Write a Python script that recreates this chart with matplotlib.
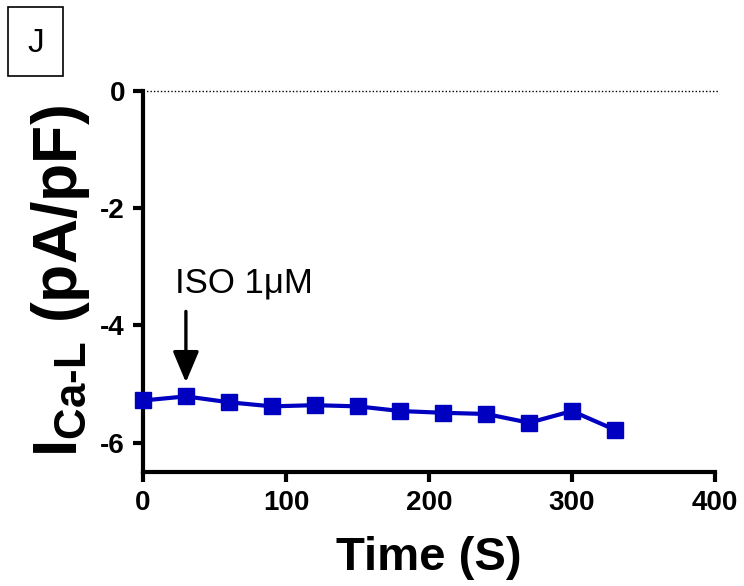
import matplotlib
matplotlib.use("Agg")
import matplotlib.pyplot as plt
from matplotlib.patches import Rectangle

plt.rcParams['font.family'] = ['Liberation Sans', 'DejaVu Sans']
plt.rcParams['mathtext.fontset'] = 'custom'
plt.rcParams['mathtext.rm'] = 'Liberation Sans:bold'
plt.rcParams['mathtext.bf'] = 'Liberation Sans:bold'
plt.rcParams['mathtext.it'] = 'Liberation Sans:bold'

time_s = [0, 30, 60, 90, 120, 150, 180, 210, 240, 270, 300, 330]
ica_l = [-5.28, -5.21, -5.31, -5.38, -5.36, -5.38, -5.46, -5.49, -5.51, -5.66, -5.46, -5.78]
xticks = [0, 100, 200, 300, 400]
yticks = [0, -2, -4, -6]

fig = plt.figure(figsize=(7.44, 5.86), dpi=100)
ax = fig.add_axes([143/744, 1-472/586, (715-143)/744, (472-91)/586])

color = '#0000C0'
ax.plot(time_s, ica_l, color=color, lw=3, marker='s', ms=11.5, mec=color, mfc=color, clip_on=False, zorder=3)
ax.axhline(0, color='black', lw=1, ls=(0, (1, 1.5)), xmin=0, xmax=1.005, clip_on=False)

ax.set_xlim(0, 400)
ax.set_ylim(-6.5, 0)
ax.set_xticks(xticks)
ax.set_yticks(yticks)
ax.set_xticklabels([str(v) for v in xticks], fontweight='bold', fontsize=20)
ax.set_yticklabels([str(v) for v in yticks], fontweight='bold', fontsize=20)
for s in ['top', 'right']:
    ax.spines[s].set_visible(False)
for s in ['left', 'bottom']:
    ax.spines[s].set_linewidth(3)
ax.tick_params(width=3, length=7, direction='out', pad=6)

ax.set_xlabel('Time (S)', fontweight='bold', fontsize=34, labelpad=14)
ax.set_ylabel(r'$\mathrm{I}_{\mathrm{Ca}\text{-}\mathrm{L}}$ (pA/pF)', fontweight='bold', fontsize=45, labelpad=6)

ax.annotate('', xy=(30, -4.97), xytext=(30, -3.76),
            arrowprops=dict(arrowstyle='-|>,head_width=0.4,head_length=0.95', mutation_scale=20,
                            color='black', lw=2.4, shrinkA=0, shrinkB=0))
ax.text(22.4, -3.43, 'ISO 1\u03bcM', fontsize=25, va='baseline', ha='left')

fig.patches.append(Rectangle((8/744, 1-76/586), 55/744, 69/586, transform=fig.transFigure,
                             fill=False, edgecolor='black', lw=1.2))
fig.text(35.5/744, 1-43/586, 'J', fontsize=24, ha='center', va='center')

fig.savefig('out.png', dpi=100)
